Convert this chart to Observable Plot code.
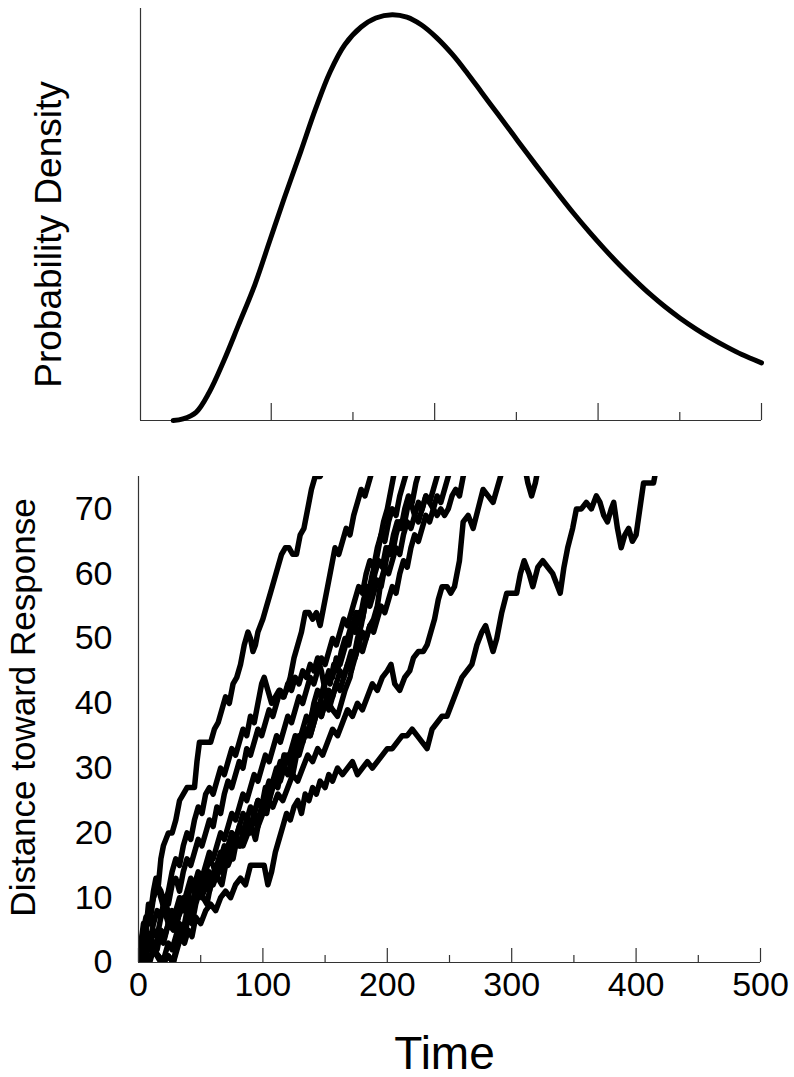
<!DOCTYPE html>
<html>
<head>
<meta charset="utf-8">
<script src="https://cdn.jsdelivr.net/npm/d3@7"></script>
<script src="https://cdn.jsdelivr.net/npm/@observablehq/plot@0.6"></script>
<style>
  html, body { margin: 0; padding: 0; background: #fff; }
  #chart { width: 794px; height: 1077px; position: relative; overflow: hidden; }
  #chart svg { display: block; }
</style>
</head>
<body>
<div id="chart"></div>
<script>
// ---------- Top panel: probability density ----------
const densityX = [0.40,0.46,0.54,0.62,0.71,0.80,0.90,0.99,1.08,1.18,1.27,1.36,1.45,1.55,1.64,1.74,1.83,1.92,2.01,2.11,2.20,2.29,2.39,2.48,2.57,2.67,2.76,2.85,2.95,3.04,3.13,3.23,3.32,3.41,3.50,3.60,3.69,3.79,3.88,4.00];
const densityY = [0.000,0.004,0.020,0.068,0.145,0.232,0.330,0.435,0.540,0.652,0.755,0.846,0.912,0.955,0.977,0.985,0.979,0.960,0.930,0.888,0.843,0.795,0.742,0.694,0.646,0.594,0.548,0.503,0.456,0.416,0.378,0.339,0.306,0.276,0.249,0.222,0.200,0.178,0.160,0.140];
const topMajorTicks = [1, 2, 3, 4];
const topMinorTicks = [1.5, 2.5, 3.5];
const topYLabel = "Probability Density";

// ---------- Bottom panel: random walks ----------
const walkP1T = [0,2,4,6,8,10,12,14,16,18,20,22,24,27,30,33,36,39,42,45,47,49,52,55,58,61,64,67,70,73,76,79,82,85,88,90,92,94,96,98,100,103,106,109,112,115,118,121,124,127,130,133,136,139,142,146,150];
const walkP1V = [0,3,6,5,9,8,11,13,12,16,18,19,20,20,22,25,26,27,27,27,31,34,34,34,34,36,37,39,41,40,43,44,46,49,51,50,48,49,51,52,53,55,57,59,61,63,64,64,63,63,66,67,70,73,75,75,77];

const walkP2T = [0,3,6,9,12,15,18,21,24,27,30,33,36,39,42,45,48,51,54,57,60,63,66,69,72,75,78,81,84,87,90,93,96,99,101,104,107,110,113,116,119,122,125,128,131,134,137,140,143,146,149,152,155,158,161,164,167,170,173,176,179,182,185,188,191];
const walkP2V = [0,4,7,6,10,12,11,9,11,14,16,15,18,20,19,22,24,23,26,27,26,28,30,29,31,33,32,34,36,35,38,37,40,43,44,42,40,41,42,41,42,44,47,49,51,54,54,53,54,52,55,58,61,64,63,65,67,66,69,71,73,72,74,76,78];

const walkC1T = [0,3,6,9,12,15,18,21,24,27,30,33,36,39,42,45,48,51,54,57,60,63,66,69,72,75,78,81,84,87,90,93,96,99,102,105,108,111,114,117,120,123,126,129,132,135,138,141,144,147,150,153,156,160,163,166,170,173,176,179,182,185,188,191,194,197,200,203,206];
const walkC1V = [0,2,5,3,6,8,7,10,9,12,13,11,14,16,15,17,19,18,20,22,21,24,23,26,28,27,29,31,30,33,32,34,36,35,37,39,38,40,42,41,43,42,44,43,45,44,46,45,47,45,42,40,39,38,40,42,44,47,50,52,55,57,60,62,65,68,70,73,76];

const walkC2T = [0,3,6,9,12,15,18,21,24,27,30,33,36,39,42,45,48,51,54,57,60,63,66,69,72,75,78,81,84,87,90,93,96,99,102,105,108,111,114,117,120,123,126,129,132,135,138,141,144,147,150,153,156,159,162,165,168,171,174,177,180,183,186,189,192,195,198,201,204,207,210,213,216];
const walkC2V = [0,1,3,2,5,4,7,9,8,6,8,10,9,11,13,12,14,13,15,17,16,18,20,19,21,23,22,24,26,25,27,29,28,30,32,31,33,35,34,36,38,37,39,41,40,42,44,43,45,47,46,48,50,49,51,53,52,54,56,58,57,60,62,61,64,66,65,68,70,69,72,74,76];

const walkC3T = [0,4,8,12,16,20,24,28,31,34,37,40,43,46,49,52,55,58,61,64,67,70,73,76,79,82,85,88,91,94,97,100,103,106,109,112,115,118,121,124,127,130,133,136,139,142,145,148,151,154,157,160,163,166,169,172,175,178,181,184,187,190,193,196,199,202,205,208,211,214,217,220,223,226];
const walkC3V = [0,1,0,2,1,0,1,0,3,5,4,7,6,9,11,10,9,12,14,13,12,15,17,16,19,18,20,22,21,19,22,24,23,26,28,27,30,32,31,29,32,34,36,35,38,40,39,42,44,43,46,45,48,50,49,52,54,53,56,58,57,60,62,61,64,63,66,68,67,70,72,71,74,76];

const walkC4T = [0,3,6,9,12,15,18,21,24,27,30,33,36,39,42,45,48,51,54,57,60,63,66,69,72,75,78,81,84,87,90,93,96,99,102,105,108,111,114,117,120,123,126,129,132,135,138,141,144,147,150,153,156,159,162,165,168,171,174,177,180,183,186,189,192,195,198,201,204,207,210,213,216,219,222,225,228,231,234,237,240,243];
const walkC4V = [0,3,5,8,10,12,10,8,6,7,5,8,10,9,12,11,13,12,14,16,15,13,16,18,17,20,19,21,23,22,20,23,25,24,27,26,28,30,29,32,31,33,35,34,36,38,37,40,42,41,43,45,44,47,46,48,50,52,51,54,53,56,55,57,59,58,61,60,62,64,63,66,68,67,69,71,70,72,71,73,75,77];

const walkC5T = [0,3,6,9,12,15,18,21,24,27,30,33,36,39,42,45,48,51,54,57,60,63,66,69,72,75,78,81,84,87,90,93,96,99,102,105,108,111,114,117,120,123,126,129,132,135,138,141,144,147,150,153,156,159,162,165,168,171,174,177,180,183,186,189,192,195,198,201,204,207,210,213,216,219,222,225,228,231,234,237,240,243,246,249,252];
const walkC5V = [0,0,1,0,2,1,0,1,3,2,4,6,5,8,7,9,11,10,12,11,13,15,14,16,18,17,19,18,20,22,21,23,22,24,26,25,27,29,28,30,29,31,33,32,34,36,35,37,39,38,40,39,41,43,42,44,46,45,47,49,48,50,52,51,53,55,54,56,58,57,60,62,61,64,66,65,67,69,68,70,72,71,73,75,77];

const walkR3T = [0,3,6,9,12,15,18,21,24,27,30,33,36,39,42,45,48,51,54,57,60,63,66,69,72,75,78,81,84,87,90,93,96,99,102,105,108,111,114,117,120,123,126,129,132,135,138,141,144,147,150,153,156,159,162,165,168,171,174,177,180,183,186,189,192,195,198,201,204,207,210,213,216,219,222,225,228,231,234,237,240,243,246,249,252,255,258,261,264];
const walkR3V = [0,2,1,4,3,2,5,4,6,8,7,9,8,10,12,11,10,13,12,14,13,15,17,16,18,20,19,21,20,22,24,23,25,24,26,28,27,29,31,30,32,31,33,35,34,36,35,37,39,38,40,42,41,43,45,44,46,48,47,49,51,50,52,53,55,59,61,64,63,66,68,67,70,71,69,68,70,72,71,70,69,70,69,70,72,73,72,75,77];

const walkR2T = [0,4,8,12,16,20,24,28,32,36,40,44,48,52,56,60,64,68,72,76,80,84,88,92,96,100,104,108,112,116,120,124,128,132,136,140,144,148,152,156,160,164,168,172,176,180,184,188,192,196,200,203,206,210,214,218,221,225,229,232,235,238,241,244,248,251,254,258,261,265,269,273,277,281,285,288,291,295,300,305,310,313,316,319,322,326];
const walkR2V = [0,1,3,2,4,3,6,5,7,9,8,10,12,11,13,12,14,16,15,17,19,18,20,22,21,23,25,24,26,25,27,29,28,30,32,31,33,32,34,36,35,37,39,38,40,39,41,43,42,44,45,46,43,42,44,45,47,48,48,49,51,53,56,58,58,57,58,62,68,69,67,70,73,72,71,73,75,78,81,80,77,74,72,74,77,80];

const walkR1T = [0,4,8,12,16,20,24,28,31,34,37,40,43,46,50,54,58,62,66,70,74,78,82,86,90,94,98,101,104,107,110,113,116,119,122,125,128,131,134,137,140,143,146,150,153,156,160,164,168,172,176,180,184,188,192,196,200,204,208,212,216,220,224,228,232,236,240,244,248,252,256,260,264,268,272,276,279,282,285,288,292,296,300,304,307,310,314,317,321,325,329,333,337,339,342,345,349,352,356,360,364,368,371,374,377,380,382,385,388,391,394,397,400,403,406,410,414,416];
const walkR1V = [0,1,0,2,1,0,1,0,2,4,3,5,4,7,6,8,9,8,10,11,10,12,13,12,15,15,15,15,12,14,17,19,21,23,22,24,25,23,26,25,27,26,28,27,29,28,30,29,30,31,29,30,31,30,31,32,33,33,34,35,35,36,35,34,33,36,37,38,38,40,42,44,45,46,49,51,52,50,48,50,54,57,57,57,60,62,60,58,61,62,61,60,58,57,61,64,67,70,70,71,70,72,71,69,68,70,71,67,64,66,67,65,66,70,74,74,74,76];

const walkNames = ["P1","P2","C1","C2","C3","C4","C5","R3","R2","R1"];
const walkTimes = [walkP1T,walkP2T,walkC1T,walkC2T,walkC3T,walkC4T,walkC5T,walkR3T,walkR2T,walkR1T];
const walkValues = [walkP1V,walkP2V,walkC1V,walkC2V,walkC3V,walkC4V,walkC5V,walkR3V,walkR2V,walkR1V];

const xMajorTicks = [0, 100, 200, 300, 400, 500];
const xMinorTicks = [50, 150, 250, 350, 450];
const yTickLabels = [0, 10, 20, 30, 40, 50, 60, 70];
const xLabel = "Time";
const yLabel = "Distance toward Response";

// ---------- build tables ----------
const density = densityX.map((x, i) => ({x, y: densityY[i]}));
const walks = walkNames.flatMap((name, k) =>
  walkTimes[k].map((t, i) => ({walk: name, t, v: walkValues[k][i]})));

const FONT = "'Liberation Sans', Arial, Helvetica, sans-serif";
const AXIS = "#333";

// ---------- top panel ----------
const topH = 440, topMT = 8, topMB = 20;
const topPlot = Plot.plot({
  width: 794, height: topH,
  marginTop: topMT, marginBottom: topMB, marginLeft: 140, marginRight: 33,
  style: {fontFamily: FONT, background: "white", color: "black"},
  x: {domain: [0.2, 4], axis: null},
  y: {domain: [0, 1], axis: null},
  marks: [
    Plot.ruleY([0], {stroke: AXIS, strokeWidth: 1.2}),
    Plot.ruleX([0.2], {stroke: AXIS, strokeWidth: 1.2}),
    Plot.tickX(topMajorTicks, {x: d => d, stroke: AXIS, strokeWidth: 1.2, insetTop: (topH - topMT - topMB) - 17}),
    Plot.tickX(topMinorTicks, {x: d => d, stroke: AXIS, strokeWidth: 1.2, insetTop: (topH - topMT - topMB) - 8}),
    Plot.line(density, {x: "x", y: "y", curve: "catmull-rom", stroke: "black", strokeWidth: 5}),
    Plot.text([topYLabel], {frameAnchor: "left", rotate: -90, dx: -80, dy: 20, textAnchor: "middle", lineAnchor: "bottom",
      fontSize: 37, fill: "black", text: d => d})
  ]
});

// ---------- bottom panel ----------
const botH = 637, botMT = 36, botMB = 115;
const botPlot = Plot.plot({
  width: 794, height: botH,
  marginTop: botMT, marginBottom: botMB, marginLeft: 138, marginRight: 34,
  style: {fontFamily: FONT, background: "white", color: "black"},
  x: {domain: [0, 500], axis: null},
  y: {domain: [0, 75], axis: null},
  marks: [
    Plot.line(walks, {x: "t", y: "v", z: "walk", stroke: "black", strokeWidth: 5.5, clip: true}),
    Plot.ruleY([0], {stroke: AXIS, strokeWidth: 1.2}),
    Plot.ruleX([0], {stroke: AXIS, strokeWidth: 1.2}),
    Plot.tickX(xMajorTicks, {x: d => d, stroke: AXIS, strokeWidth: 1.2, insetTop: (botH - botMT - botMB) - 14}),
    Plot.tickX(xMinorTicks, {x: d => d, stroke: AXIS, strokeWidth: 1.2, insetTop: (botH - botMT - botMB) - 7}),
    Plot.text(xMajorTicks, {x: d => d, frameAnchor: "bottom", dy: 33, fontSize: 34, fill: "black", text: d => String(d)}),
    Plot.text(yTickLabels, {y: d => d, frameAnchor: "left", dx: -26, textAnchor: "end", fontSize: 34, fill: "black", text: d => String(d)}),
    Plot.text([xLabel], {frameAnchor: "bottom", dx: -5, dy: 106, textAnchor: "middle", lineAnchor: "bottom", fontSize: 46, fill: "black", text: d => d}),
    Plot.text([yLabel], {frameAnchor: "left", rotate: -90, dx: -104, dy: -12, textAnchor: "middle", lineAnchor: "bottom", fontSize: 35, fill: "black", text: d => d})
  ]
});

const chart = document.getElementById("chart");
chart.appendChild(topPlot);
chart.appendChild(botPlot);
</script>
</body>
</html>
